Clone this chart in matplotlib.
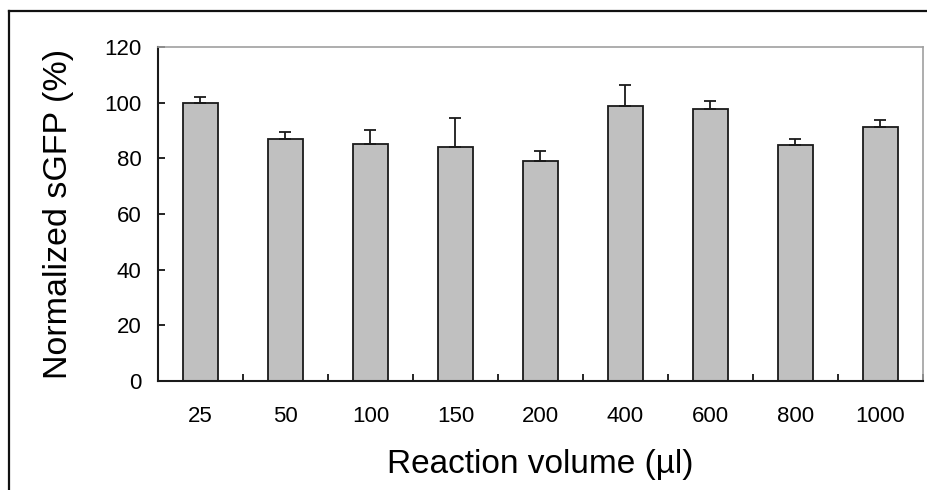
import matplotlib.pyplot as plt
from matplotlib.lines import Line2D
import numpy as np

plt.rcParams['font.family'] = ['Liberation Sans', 'DejaVu Sans']

# Données
volumes = ['25', '50', '100', '150', '200', '400', '600', '800', '1000']
sgfp = [100.0, 87.1, 85.2, 84.0, 79.1, 98.8, 97.6, 84.7, 91.4]
erreurs = [2.0, 2.5, 5.0, 10.4, 3.7, 7.6, 3.1, 2.4, 2.4]

W, H = 928, 490
fig = plt.figure(figsize=(W / 100, H / 100), dpi=100)
ax = fig.add_axes([158 / W, 1 - 381 / H, (923 - 158) / W, (381 - 47) / H])

x = np.arange(len(volumes))
ax.bar(x, sgfp, width=0.41, color='#c0c0c0', edgecolor='#1a1a1a', linewidth=1.3, zorder=2)
ax.errorbar(x, sgfp, yerr=[np.zeros(len(erreurs)), erreurs], fmt='none',
            ecolor='#1a1a1a', elinewidth=1.3, capsize=4.3, capthick=1.3, zorder=3)

ax.set_xlim(-0.5, len(volumes) - 0.5)
ax.set_ylim(0, 120)
ax.set_yticks(range(0, 121, 20))
ax.set_xticks(x)
ax.set_xticklabels(volumes)
ax.set_xticks(np.arange(-0.5, len(volumes)), minor=True)

ax.tick_params(axis='x', which='major', length=0, pad=18, labelsize=16)
ax.tick_params(axis='x', which='minor', direction='in', length=5, width=1.2)
ax.tick_params(axis='y', direction='in', length=5, width=1.2, pad=12, labelsize=16)

for cote in ['left', 'bottom']:
    ax.spines[cote].set_color('#1a1a1a')
    ax.spines[cote].set_linewidth(1.5)
for cote in ['top', 'right']:
    ax.spines[cote].set_color('#a0a0a0')
    ax.spines[cote].set_linewidth(1.2)

ax.set_xlabel('Reaction volume (µl)', fontsize=24, labelpad=16)
ax.set_ylabel('Normalized sGFP (%)', fontsize=24.5, labelpad=22)

# Cadre extérieur (gauche et haut)
fig.add_artist(Line2D([9 / W, 9 / W], [0, 1 - 11 / H], transform=fig.transFigure,
                      color='#111111', linewidth=1.6))
fig.add_artist(Line2D([9 / W, 1], [1 - 11 / H, 1 - 11 / H], transform=fig.transFigure,
                      color='#111111', linewidth=1.6))

plt.savefig('out.png', dpi=100)
